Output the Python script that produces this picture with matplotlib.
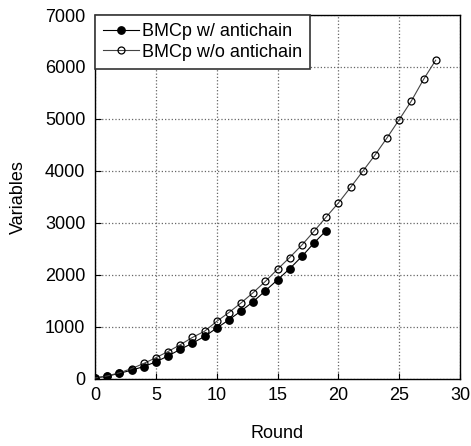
import matplotlib
matplotlib.use("Agg")
import matplotlib.pyplot as plt

plt.rcParams['font.family'] = ['Liberation Sans', 'DejaVu Sans']

rounds_with = list(range(0, 20))
vars_with = [10, 45, 100, 160, 230, 320, 435, 560, 680, 810, 970, 1130, 1300,
             1480, 1690, 1900, 2115, 2350, 2610, 2850]
rounds_without = list(range(0, 29))
vars_without = [10, 50, 110, 190, 290, 400, 520, 650, 790, 910, 1100, 1270, 1455,
                1655, 1870, 2105, 2330, 2570, 2835, 3110, 3380, 3680, 3990, 4300,
                4635, 4985, 5345, 5760, 6130]

fig = plt.figure(figsize=(4.71, 4.46), dpi=100)
ax = fig.add_axes([0.2017, 0.1513, 0.775, 0.815])

ax.plot(rounds_with, vars_with, '-o', color='black', lw=0.8, ms=5.3,
        label='BMCp w/ antichain', zorder=3)
ax.plot(rounds_without, vars_without, '-o', color='#444444', lw=0.8, ms=5.0,
        mfc='none', mec='black', mew=0.9, label='BMCp w/o antichain', zorder=3)

ax.set_xlim(0, 30)
ax.set_ylim(0, 7000)
ax.set_xticks([0, 5, 10, 15, 20, 25, 30])
ax.set_yticks(range(0, 7001, 1000))
ax.grid(True, linestyle=':', color='#666666', lw=0.9)
ax.tick_params(direction='in', labelsize=13, length=4, top=False, right=False)
ax.tick_params(axis='y', pad=7)
ax.tick_params(axis='x', pad=6)
ax.set_xlabel('Round', fontsize=13, labelpad=15)
ax.set_ylabel('Variables', fontsize=13, labelpad=13)
for s in ax.spines.values():
    s.set_linewidth(1.0)

leg = ax.legend(loc='upper left', fontsize=13, frameon=True, fancybox=False,
                borderaxespad=0, handlelength=2.0, handletextpad=0.15,
                borderpad=0.45, labelspacing=0.2, edgecolor='#333333',
                framealpha=1)
leg.get_frame().set_linewidth(1.2)

fig.savefig('out.png', dpi=100)
